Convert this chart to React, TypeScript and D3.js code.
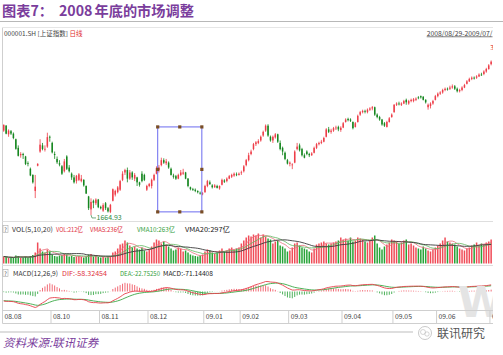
import React from 'react';
import * as d3 from 'd3';

// ---- data ----
const OPEN = [
  2350,2390,2320,2345,2325,2280,2210,2150,2160,2140,
  2085,2040,1990,1860,2065,2180,2230,2200,2220,2300,
  2250,2160,2120,2085,2060,2020,2140,2050,2000,1970,
  1940,1950,1940,1950,1900,1815,1710,1780,1760,1790,
  1730,1700,1760,1720,1690,1780,1830,1850,1870,1950,
  2010,2030,1960,2010,1960,1970,1930,2000,1990,1870,
  1900,1900,1950,2000,2030,2070,2110,2085,2090,2040,
  1985,1980,1960,1990,2000,2010,1960,1890,1875,1870,
  1860,1845,1835,1850,1900,1930,1905,1890,1900,1880,
  1910,1945,1940,1960,1975,1985,1995,1990,2010,2020,
  2070,2110,2160,2200,2240,2250,2270,2310,2350,2390,
  2300,2270,2295,2320,2250,2210,2170,2110,2080,2070,
  2090,2200,2230,2200,2150,2180,2160,2150,2170,2210,
  2240,2250,2260,2300,2360,2340,2350,2370,2380,2355,
  2375,2420,2445,2440,2420,2380,2420,2480,2500,2510,
  2500,2520,2530,2540,2480,2460,2440,2410,2380,2420,
  2460,2500,2560,2570,2560,2570,2600,2570,2590,2590,
  2600,2620,2630,2625,2600,2540,2550,2570,2600,2630,
  2650,2660,2680,2690,2690,2700,2710,2690,2670,2680,
  2700,2730,2750,2770,2780,2780,2790,2805,2810,2830,
  2850,2890,
];
const CLOSE = [
  2397,2325,2350,2326,2290,2202,2145,2160,2151,2079,
  2079,1986,1930,1895,2080,2236,2201,2202,2297,2293,
  2173,2152,2093,2074,2000,2100,2040,2020,1970,1930,
  1983,1995,1960,1905,1839,1720,1771,1763,1790,1728,
  1719,1745,1720,1694,1747,1874,1860,1889,1940,2000,
  2030,1960,2010,1970,1990,1930,1910,1940,1950,1900,
  1916,1950,1990,2046,2050,2110,2090,2100,2050,1990,
  1975,1960,1990,2010,2010,1960,1900,1875,1870,1860,
  1850,1840,1840,1900,1940,1915,1890,1905,1885,1900,
  1950,1935,1960,1980,1990,2000,1990,2000,2011,2060,
  2110,2150,2180,2240,2255,2265,2300,2340,2390,2310,
  2270,2300,2320,2260,2200,2180,2120,2082,2090,2075,
  2180,2220,2190,2150,2130,2160,2150,2165,2210,2240,
  2250,2260,2290,2360,2340,2350,2370,2375,2360,2373,
  2410,2440,2435,2430,2370,2410,2470,2500,2510,2505,
  2520,2530,2540,2480,2460,2440,2400,2390,2420,2450,
  2480,2560,2570,2565,2570,2590,2580,2590,2600,2605,
  2610,2615,2620,2600,2580,2560,2570,2590,2630,2650,
  2660,2680,2690,2685,2700,2710,2690,2670,2680,2700,
  2720,2750,2770,2780,2775,2790,2805,2800,2830,2850,
  2880,2910,
];
const HIGH = [
  2400,2395,2360,2355,2335,2285,2230,2175,2170,2145,
  2100,2050,1995,1990,2085,2280,2250,2230,2333,2310,
  2260,2180,2140,2110,2070,2120,2150,2070,2010,1990,
  1990,2005,1990,1955,1905,1820,1800,1790,1800,1795,
  1740,1760,1770,1730,1755,1880,1870,1900,1950,2020,
  2040,2050,2030,2020,2005,1975,1935,2020,2000,1910,
  1925,1960,2000,2060,2070,2130,2125,2120,2100,2050,
  2000,1990,2000,2030,2040,2015,1965,1895,1885,1880,
  1865,1855,1850,1910,1950,1945,1915,1915,1910,1905,
  1960,1955,1970,1990,2000,2010,2010,2010,2025,2070,
  2120,2170,2195,2250,2265,2280,2310,2350,2400,2402,
  2310,2310,2330,2325,2270,2220,2180,2120,2100,2085,
  2190,2250,2245,2210,2165,2190,2170,2175,2220,2250,
  2260,2275,2300,2370,2380,2365,2380,2390,2390,2385,
  2420,2450,2455,2450,2425,2420,2480,2510,2520,2520,
  2530,2540,2550,2545,2490,2470,2445,2420,2430,2460,
  2490,2565,2580,2585,2580,2600,2610,2600,2610,2615,
  2620,2630,2635,2630,2605,2570,2580,2600,2640,2660,
  2670,2690,2700,2700,2715,2725,2720,2700,2690,2710,
  2730,2760,2780,2790,2790,2800,2815,2820,2840,2860,
  2890,2920,
];
const LOW = [
  2340,2320,2300,2315,2280,2195,2140,2130,2120,2070,
  2060,1980,1920,1802,2060,2170,2190,2180,2210,2260,
  2165,2120,2080,2060,1990,2010,2030,2010,1950,1920,
  1920,1940,1930,1895,1835,1705,1665,1720,1745,1720,
  1710,1690,1705,1685,1680,1775,1815,1840,1860,1940,
  1990,1930,1950,1950,1940,1900,1895,1930,1940,1860,
  1890,1880,1940,1995,2010,2060,2080,2070,2040,1985,
  1960,1950,1955,1980,1990,1955,1890,1865,1860,1850,
  1840,1830,1825,1845,1890,1910,1880,1885,1880,1870,
  1905,1925,1930,1955,1965,1975,1980,1985,1990,2010,
  2060,2100,2150,2190,2225,2240,2260,2300,2340,2300,
  2260,2250,2285,2250,2190,2150,2110,2075,2060,2037,
  2085,2190,2180,2140,2125,2150,2135,2145,2165,2200,
  2230,2240,2255,2295,2330,2325,2340,2355,2345,2340,
  2370,2415,2425,2420,2360,2375,2415,2470,2490,2490,
  2490,2510,2515,2470,2450,2430,2390,2380,2375,2415,
  2455,2495,2550,2555,2550,2565,2560,2560,2580,2580,
  2590,2605,2610,2595,2570,2520,2530,2560,2595,2620,
  2640,2650,2670,2675,2680,2690,2680,2660,2660,2670,
  2695,2725,2745,2760,2765,2770,2785,2795,2800,2820,
  2845,2880,
];
const VOLUME = [
  70,65,55,60,55,80,75,60,60,70,60,75,85,110,
  210,
  150,120,110,140,120,
  90,75,70,80,85,95,90,70,75,65,
  70,75,65,60,70,90,95,70,75,65,
  60,65,60,70,75,110,120,
  150,190,200,230,210,180,160,170,150,
  140,160,130,120,140,
  170,210,240,230,200,220,190,
  170,150,130,140,160,150,
  120,130,110,90,80,75,70,80,
  90,120,140,130,110,100,110,130,150,120,130,
  150,160,140,150,160,
  200,230,260,280,270,290,
  280,300,260,290,270,250,240,
  200,220,230,180,170,150,120,130,
  160,200,210,180,160,150,140,120,110,150,
  190,200,210,220,200,190,200,210,220,
  230,260,240,250,230,260,220,230,260,250,
  240,220,210,230,260,280,200,160,140,170,
  190,210,240,230,220,200,210,230,240,190,200,
  180,160,150,140,170,150,130,120,140,160,180,
  200,230,260,220,210,200,190,170,
  150,140,130,150,160,
  180,190,210,180,200,190,210,220,240,
];
const TICK_LABELS = ['08.08','08.10','08.11','08.12','09.01','09.02','09.03','09.04','09.05','09.06','0'];
const TICK_INDEX = [0,20,40,60,83,98,118,140,161,179,201];
const PRICE_DOMAIN = [1624, 3086];
const VOL_DOMAIN = [0, 300];
const MACD_SEED = [2480, 2580, -95]; // ema12, ema26, dea before first bar
const LOW_LABEL = '1664.93';
const LOW_INDEX = 36;
const HIGH_LABEL = '3';
const BOX = { from: 64, to: 82.2, hi: 2380, lo: 1690 };
const VOL_LEGEND = ['VOL(5,10,20)', 'VOL:212亿', 'VMA5:236亿', 'VMA10:263亿', 'VMA20:297亿'];
const MACD_LEGEND = ['MACD(12,26,9)', 'DIF:-58.32454', 'DEA:-22.75250', 'MACD:-71.14408'];

const UP = '#ee3d48';
const DOWN = '#15861f';
const VUP = '#f04c58';
const VDOWN = '#28a438';
const FONT = '"Noto Sans CJK SC", "Noto Sans", sans-serif';
const PURPLE = '#7a3d9c';

export default function App() {
  const N = CLOSE.length;
  const xEdge = d3.scaleLinear().domain([0, N]).range([2.5, 2.5 + N * 2.425]);
  const cx = (i: number) => xEdge(i + 0.5);
  const yP = d3.scaleLinear().domain(PRICE_DOMAIN).range([220, 40]);
  const yV = d3.scaleLinear().domain(VOL_DOMAIN).range([263.5, 233.5]);

  const ma = (arr: number[], n: number) =>
    arr.map((_, i) => d3.mean(arr.slice(Math.max(0, i - n + 1), i + 1)) as number);
  const vma5 = ma(VOLUME, 5);
  const vma10 = ma(VOLUME, 10);
  const vma20 = ma(VOLUME, 20);

  let e12 = MACD_SEED[0], e26 = MACD_SEED[1], dea = MACD_SEED[2];
  const dif: number[] = [], deaArr: number[] = [], hist: number[] = [];
  CLOSE.forEach((c) => {
    e12 = e12 + (c - e12) * 2 / 13;
    e26 = e26 + (c - e26) * 2 / 27;
    const d = e12 - e26;
    dea = dea + (d - dea) * 2 / 10;
    dif.push(d); deaArr.push(dea); hist.push(2 * (d - dea));
  });
  const m = d3.max([...dif, ...deaArr, ...hist].map(Math.abs)) as number;
  const yM = d3.scaleLinear().domain([-m, m]).range([307.5, 275.5]);

  const vline = (arr: number[]) =>
    d3.line<number>().x((_, i) => cx(i)).y((v) => yV(v))(arr) as string;
  const mline = (arr: number[]) =>
    d3.line<number>().x((_, i) => cx(i)).y((v) => yM(v))(arr) as string;

  const bw = 1.5;
  const lowX = cx(LOW_INDEX);
  const lowY = yP(LOW[LOW_INDEX]);

  const bx0 = xEdge(BOX.from), bx1 = xEdge(BOX.to);
  const by0 = yP(BOX.hi), by1 = yP(BOX.lo);
  const handles: [number, number][] = [
    [bx0, by0], [(bx0 + bx1) / 2, by0], [bx1, by0],
    [bx0, (by0 + by1) / 2], [bx1, (by0 + by1) / 2],
    [bx0, by1], [(bx0 + bx1) / 2, by1], [bx1, by1],
  ];

  const lg = 6.6;
  const volPos = [[12, 41, '#333'], [56, 27, '#e0303c'], [90, 33, '#e0303c'], [137, 38, '#35a040'], [185, 45, '#222']];
  const macdPos = [[13, 45, '#333'], [62, 45, '#e0303c'], [120, 40, '#35a040'], [163, 50, '#222']];

  return (
    <svg width={503} height={355} style={{ position: 'absolute', left: 0, top: 0, background: '#fff' }}
      fontFamily={FONT}>
      <defs>
        <clipPath id="clipR"><rect x={0} y={0} width={493} height={355} /></clipPath>
      </defs>
      {/* title */}
      <text y={16} fill={PURPLE} fontWeight="bold" fontSize={14.2}>
        <tspan x={2}>图表7：</tspan>
        <tspan x={59}>2008</tspan>
        <tspan x={94.5}>年底的市场调整</tspan>
      </text>
      <line x1={0} x2={503} y1={21.5} y2={21.5} stroke="#b8b8b8" strokeWidth={1} />

      <g clipPath="url(#clipR)">
        {/* frame */}
        <line x1={2.5} x2={2.5} y1={27.5} y2={323.5} stroke="#cfcfcf" />
        <line x1={2.5} x2={493} y1={27.5} y2={27.5} stroke="#e6e6e6" />
        <text x={4} y={35.5} fontSize={6.5} fill="#444">000001.SH [上证指数] <tspan fill="#e02a2a">日线</tspan></text>
        <text x={492.5} y={35.5} fontSize={6.8} fill="#444" textAnchor="end" textDecoration="underline">2008/08/29-2009/07/</text>
        <text x={490.3} y={50} fontSize={6.5} fill="#e02a2a">{HIGH_LABEL}</text>

        {/* candles */}
        {CLOSE.map((c, i) => {
          const up = c >= OPEN[i];
          const col = up ? UP : DOWN;
          const top = yP(Math.max(c, OPEN[i]));
          const bot = yP(Math.min(c, OPEN[i]));
          return (
            <g key={i}>
              <line x1={cx(i)} x2={cx(i)} y1={yP(HIGH[i])} y2={yP(LOW[i])} stroke={col} strokeWidth={0.8} />
              <rect x={cx(i) - bw / 2} y={top} width={bw} height={Math.max(0.8, bot - top)} fill={col} />
            </g>
          );
        })}

        {/* low label */}
        <path d={`M${lowX},${lowY} L${lowX + 1},${lowY + 3} L${lowX + 5},${lowY + 3}`} fill="none" stroke="#3a8a4a" strokeWidth={0.7} />
        <text x={lowX + 5.5} y={lowY + 5.5} fontSize={7} fill="#2f8a3f">{LOW_LABEL}</text>

        {/* annotation box */}
        <rect x={bx0} y={by0} width={bx1 - bx0} height={by1 - by0} fill="none" stroke="#6b6bef" strokeWidth={1} />
        {handles.map(([hx, hy], k) => (
          <rect key={k} x={hx - 1.6} y={hy - 1.6} width={3.2} height={3.2} fill="#7a4e26" />
        ))}

        {/* separators */}
        <line x1={2.5} x2={493} y1={221.5} y2={221.5} stroke="#dedede" />
        <line x1={2.5} x2={493} y1={265.5} y2={265.5} stroke="#dedede" />

        {/* VOL legend */}
        <rect x={3} y={225.5} width={5} height={7} fill="none" stroke="#aaa" strokeWidth={0.6} />
        <text x={4} y={231.5} fontSize={6} fill="#555">?</text>
        {VOL_LEGEND.map((t, k) => (
          <text key={k} x={volPos[k][0] as number} y={231.8} fontSize={lg} fill={volPos[k][2] as string}
            textLength={volPos[k][1] as number} lengthAdjust="spacingAndGlyphs">{t}</text>
        ))}

        {/* volume bars */}
        {VOLUME.map((v, i) => {
          const up = CLOSE[i] >= OPEN[i];
          return (
            <rect key={i} x={cx(i) - bw / 2} y={yV(v)} width={bw} height={yV(0) - yV(v)} fill={up ? VUP : VDOWN} />
          );
        })}
        <path d={vline(vma5)} fill="none" stroke="#e8707c" strokeWidth={0.8} />
        <path d={vline(vma10)} fill="none" stroke="#5fb860" strokeWidth={0.8} />
        <path d={vline(vma20)} fill="none" stroke="#3a3a3a" strokeWidth={0.9} />

        {/* MACD legend */}
        <rect x={3} y={269.5} width={5} height={7} fill="none" stroke="#aaa" strokeWidth={0.6} />
        <text x={4} y={275.5} fontSize={6} fill="#555">?</text>
        {MACD_LEGEND.map((t, k) => (
          <text key={k} x={macdPos[k][0] as number} y={275.8} fontSize={lg} fill={macdPos[k][2] as string}
            textLength={macdPos[k][1] as number} lengthAdjust="spacingAndGlyphs">{t}</text>
        ))}

        {/* MACD histogram */}
        {hist.map((h, i) => (
          <line key={i} x1={cx(i)} x2={cx(i)} y1={yM(0)} y2={yM(h)} stroke={h >= 0 ? '#ef5a66' : '#3aa848'} strokeWidth={0.9} />
        ))}
        <path d={mline(deaArr)} fill="none" stroke="#3aa845" strokeWidth={0.9} />
        <path d={mline(dif)} fill="none" stroke="#e8404c" strokeWidth={0.9} />

        {/* watermark W */}
        <text x={458} y={317} fontSize={42} fontWeight="bold" fill="#e4e4e4" fontFamily="DejaVu Sans">W</text>

        {/* x axis band */}
        <line x1={2.5} x2={493} y1={310.5} y2={310.5} stroke="#cfcfcf" />
        <line x1={2.5} x2={493} y1={323.5} y2={323.5} stroke="#cfcfcf" />
        {TICK_INDEX.map((ti, k) => (
          <g key={k}>
            {k > 0 && <line x1={xEdge(ti)} x2={xEdge(ti)} y1={310.5} y2={323.5} stroke="#cfcfcf" />}
            <text x={xEdge(ti) + 2} y={319} fontSize={6.8} fill="#444">{TICK_LABELS[k]}</text>
          </g>
        ))}

        {/* footer rule + logo */}
        <line x1={0} x2={493} y1={332} y2={332} stroke="#bdbdbd" />
        <rect x={413} y={326} width={80} height={13} fill="#fff" />
        <circle cx={425} cy={333} r={6.5} fill="#fff" stroke="#bbb" strokeWidth={0.8} />
        <circle cx={423} cy={332} r={2.5} fill="none" stroke="#bbb" strokeWidth={0.6} />
        <circle cx={427} cy={334} r={2.2} fill="none" stroke="#bbb" strokeWidth={0.6} />
        <text x={437} y={338} fontSize={12} fill="#555">联讯研究</text>
      </g>

      <text x={3} y={347} fontSize={11.5} fontStyle="italic" fill={PURPLE}>资料来源:联讯证券</text>
    </svg>
  );
}
